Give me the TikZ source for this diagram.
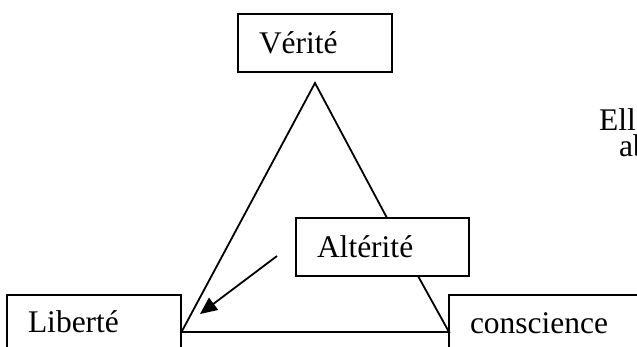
\documentclass[tikz,border=0pt]{standalone}
\usepackage{fontspec}
\setmainfont{Liberation Serif}
\usetikzlibrary{arrows.meta}
\begin{document}
\begin{tikzpicture}[x=1pt,y=-1pt,
  box/.style={draw, rectangle, line width=1.8pt, inner xsep=21pt, inner ysep=0pt,
    text height=21pt, text depth=0pt, align=left, font=\fontsize{31.5}{37}\selectfont},
  plain/.style={inner sep=0pt, anchor=base west, font=\fontsize{31.5}{37}\selectfont},
  edge/.style={line width=1.8pt, line join=miter},
  pointer/.style={line width=1.8pt, -{Triangle[length=17pt,width=15pt]}}]
\useasboundingbox (0,0) rectangle (637,347);
\clip (0,0) rectangle (637,347);
% boxes
\node[box, text width=112pt, minimum height=58pt] (verite) at (315,43) {Vérité};
\node[box, text width=131pt, minimum height=58pt] (alterite) at (382.5,247) {Altérité};
\node[box, text width=132pt, minimum height=53pt] (liberte) at (94,321.5) {Liberté};
\node[box, text width=169pt, minimum height=55pt] (conscience) at (554.5,322.5) {conscience};
% triangle
\coordinate (apex) at (315,83);
\coordinate (bl) at (181.5,332);
\coordinate (br) at (449,332);
\draw[edge] (bl) -- (apex) -- (387,218);
\draw[edge] (418,276) -- (br) -- (bl);
% arrow
\coordinate (astart) at (277,256);
\coordinate (atip) at (200,314);
\draw[pointer] (astart) -- (atip);
% cut-off text at right
\node[plain] (elle) at (599,131) {Elle};
\node[plain] (ab) at (619,157) {ab};
\end{tikzpicture}
\end{document}
